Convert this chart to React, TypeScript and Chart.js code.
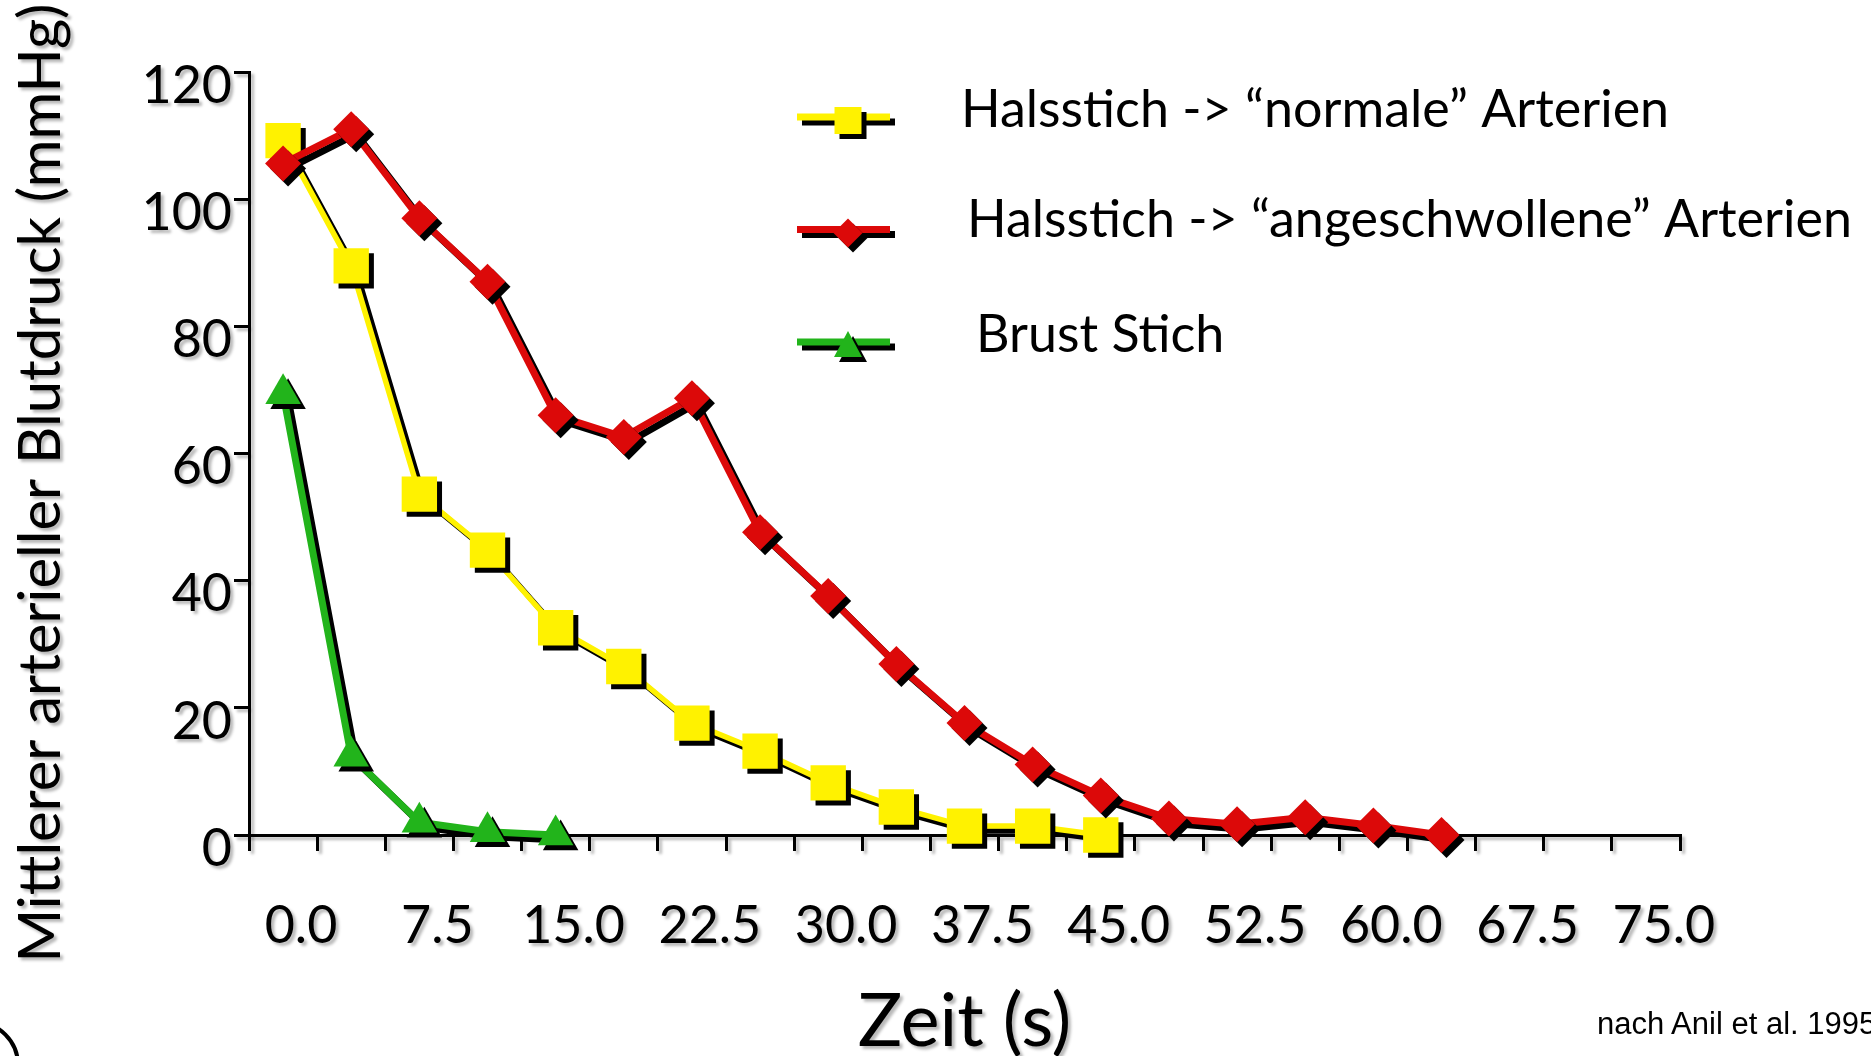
import React, { useEffect, useRef } from 'react';
import { Chart, registerables } from 'chart.js';

Chart.register(...registerables);

// ---- data ----
const timeSec = [0, 3.75, 7.5, 11.25, 15, 18.75, 22.5, 26.25, 30, 33.75, 37.5, 41.25, 45, 48.75, 52.5, 56.25, 60, 63.75];
const seriesLabels = [
  'Halsstich -> “normale” Arterien',
  'Halsstich -> “angeschwollene” Arterien',
  'Brust Stich',
];
const normalArteries = [109.2, 89.5, 53.6, 44.8, 32.6, 26.5, 17.6, 13.2, 8.2, 4.4, 1.4, 1.4, 0];
const swollenArteries = [105.6, 111.0, 97.0, 87.0, 66.0, 62.6, 68.7, 47.6, 37.6, 26.9, 17.6, 11.1, 6.2, 2.6, 1.7, 2.8, 1.5, 0];
const chestStab = [69.4, 12.4, 2.0, 0.5, 0];
const xTickLabels = ['0.0', '7.5', '15.0', '22.5', '30.0', '37.5', '45.0', '52.5', '60.0', '67.5', '75.0'];
const xAxisTitle = 'Zeit (s)';
const yAxisTitle = 'Mittlerer arterieller Blutdruck (mmHg)';
const sourceNote = 'nach Anil et al. 1995';

// ---- styling ----
const YELLOW = '#FFF200';
const RED = '#DC0909';
const GREEN = '#22B41B';
const BIN = 3.75;
const X_MIN = -BIN / 2;
const X_MAX = X_MIN + 21 * BIN;

const legendRows = [
  { lineY: 117, markerY: 120.5, textX: 961, baseY: 127 },
  { lineY: 229.5, markerY: 233, textX: 967, baseY: 237 },
  { lineY: 342, markerY: 345, textX: 976, baseY: 352 },
];

const shadowPlugin = {
  id: 'dropShadows',
  beforeDraw(chart: any) {
    const ctx = chart.ctx;
    ctx.save();
    ctx.shadowColor = 'rgba(0,0,0,0.28)';
    ctx.shadowBlur = 3;
    ctx.shadowOffsetX = 3;
    ctx.shadowOffsetY = 3;
  },
  beforeDatasetsDraw(chart: any) {
    chart.ctx.restore();
  },
  beforeDatasetDraw(chart: any) {
    const ctx = chart.ctx;
    ctx.save();
    ctx.shadowColor = '#000';
    ctx.shadowBlur = 0;
    ctx.shadowOffsetX = 5;
    ctx.shadowOffsetY = 5;
  },
  afterDatasetDraw(chart: any) {
    chart.ctx.restore();
  },
};

function markerPath(ctx: CanvasRenderingContext2D, style: string, cx: number, cy: number) {
  ctx.beginPath();
  if (style === 'rect') {
    ctx.rect(cx - 13.5, cy - 13.5, 27, 27);
  } else if (style === 'rectRot') {
    ctx.moveTo(cx, cy - 14.5);
    ctx.lineTo(cx + 14.5, cy);
    ctx.lineTo(cx, cy + 14.5);
    ctx.lineTo(cx - 14.5, cy);
    ctx.closePath();
  } else {
    ctx.moveTo(cx, cy - 14);
    ctx.lineTo(cx + 14, cy + 12);
    ctx.lineTo(cx - 14, cy + 12);
    ctx.closePath();
  }
}

const legendPlugin = {
  id: 'insetLegend',
  afterDraw(chart: any) {
    const ctx: CanvasRenderingContext2D = chart.ctx;
    chart.data.datasets.forEach((ds: any, i: number) => {
      const row = legendRows[i];
      ctx.save();
      ctx.shadowColor = '#000';
      ctx.shadowBlur = 0;
      ctx.shadowOffsetX = 5;
      ctx.shadowOffsetY = 5;
      ctx.strokeStyle = ds.borderColor;
      ctx.lineWidth = 7;
      ctx.beginPath();
      ctx.moveTo(797, row.lineY);
      ctx.lineTo(890, row.lineY);
      ctx.stroke();
      ctx.fillStyle = ds.borderColor;
      markerPath(ctx, ds.pointStyle, 848, row.markerY);
      ctx.fill();
      ctx.restore();

      ctx.save();
      ctx.fillStyle = '#000';
      ctx.font = '52px Lato';
      ctx.textBaseline = 'alphabetic';
      ctx.textAlign = 'left';
      ctx.fillText(ds.label, row.textX, row.baseY);
      ctx.restore();
    });
  },
};

function series(values: number[]) {
  return values.map((v, i) => ({ x: timeSec[i], y: v }));
}

const Y_TITLE_SIZE = 58;
const Y_TITLE_LH = 1.2;

export default function App() {
  const canvasRef = useRef<HTMLCanvasElement | null>(null);

  useEffect(() => {
    const canvas = canvasRef.current;
    if (!canvas) return;
    const common = {
      tension: 0,
      clip: false,
      pointBorderWidth: 0,
      borderJoinStyle: 'miter',
    };
    const chart = new Chart(canvas, {
      type: 'line',
      data: {
        datasets: [
          {
            ...common,
            label: seriesLabels[0],
            data: series(normalArteries),
            borderColor: YELLOW,
            backgroundColor: YELLOW,
            pointBackgroundColor: YELLOW,
            borderWidth: 5.5,
            pointStyle: 'rect',
            pointRadius: 25,
            pointHoverRadius: 25,
            order: 3,
          },
          {
            ...common,
            label: seriesLabels[1],
            data: series(swollenArteries),
            borderColor: RED,
            backgroundColor: RED,
            pointBackgroundColor: RED,
            borderWidth: 7,
            pointStyle: 'rectRot',
            pointRadius: 18,
            pointHoverRadius: 18,
            order: 2,
          },
          {
            ...common,
            label: seriesLabels[2],
            data: series(chestStab),
            borderColor: GREEN,
            backgroundColor: GREEN,
            pointBackgroundColor: GREEN,
            borderWidth: 7,
            pointStyle: 'triangle',
            pointRadius: 20.5,
            pointHoverRadius: 20.5,
            order: 1,
          },
        ],
      } as any,
      options: {
        animation: false,
        responsive: false,
        events: [],
        layout: { padding: { left: 6, right: 191, top: 0, bottom: 90 } },
        plugins: {
          legend: { display: false },
          tooltip: { enabled: false },
          title: {
            display: true,
            position: 'left',
            fullSize: true,
            text: yAxisTitle,
            color: '#000',
            font: { family: 'Lato', size: Y_TITLE_SIZE, lineHeight: Y_TITLE_LH, weight: 'normal' },
            padding: { top: 0, bottom: 0 },
          },
        },
        scales: {
          x: {
            type: 'linear',
            min: X_MIN,
            max: X_MAX,
            ticks: {
              stepSize: BIN,
              autoSkip: false,
              maxRotation: 0,
              minRotation: 0,
              labelOffset: 52,
              padding: 44,
              color: '#000',
              font: { family: 'Lato', size: 52, lineHeight: 1.2 },
              callback: (_v: any, index: number) => (index % 2 === 0 ? xTickLabels[index / 2] ?? '' : ''),
            },
            grid: { display: true, drawOnChartArea: false, drawTicks: true, tickLength: 16, lineWidth: 3, color: '#000' },
            border: { display: true, width: 3, color: '#000' },
            title: {
              display: true,
              text: xAxisTitle,
              color: '#000',
              font: { family: 'Lato', size: 74, lineHeight: 1 },
              padding: { top: 0, bottom: -93 },
            },
            afterFit: (scale: any) => {
              scale.height = 131;
            },
          },
          y: {
            type: 'linear',
            min: 0,
            max: 120,
            ticks: {
              stepSize: 20,
              padding: 2,
              labelOffset: 14,
              color: '#000',
              font: { family: 'Lato', size: 52, lineHeight: 1.2 },
            },
            grid: { display: true, drawOnChartArea: false, drawTicks: true, tickLength: 15, lineWidth: 3, color: '#000' },
            border: { display: true, width: 3, color: '#000' },
            afterFit: (scale: any) => {
              scale.width = 249 - 6 - Y_TITLE_SIZE * Y_TITLE_LH;
              scale.paddingTop = 72;
            },
          },
        },
      } as any,
      plugins: [shadowPlugin, legendPlugin] as any,
    });
    return () => chart.destroy();
  }, []);

  return (
    <div
      style={{
        position: 'fixed',
        left: 0,
        top: 0,
        width: 1871,
        height: 1056,
        overflow: 'hidden',
        background: '#fff',
      }}
    >
      <canvas
        ref={canvasRef}
        width={1871}
        height={1056}
        style={{ position: 'absolute', left: 0, top: 0, width: 1871, height: 1056 }}
      />
      <div
        style={{
          position: 'absolute',
          left: -70,
          top: 1020,
          width: 90,
          height: 90,
          boxSizing: 'border-box',
          border: '4px solid #000',
          borderRadius: '50%',
        }}
      />
      <div
        style={{
          position: 'absolute',
          left: 1597,
          top: 1006,
          height: 36,
          lineHeight: '36px',
          fontFamily: '"Liberation Sans", Arial, sans-serif',
          fontSize: 31,
          color: '#000',
          whiteSpace: 'nowrap',
        }}
      >
        {sourceNote}
      </div>
    </div>
  );
}
